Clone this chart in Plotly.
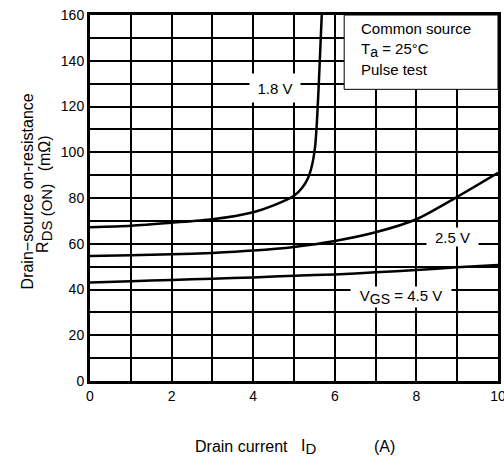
import plotly.graph_objects as go

# Drain current (A) and on-resistance (mOhm)
id_18 = [0, 1, 2, 3, 4, 4.5, 5, 5.2, 5.35, 5.45, 5.52, 5.57, 5.62, 5.68]
r_18 = [67.2, 67.9, 69.2, 70.7, 73.8, 76.8, 81, 84.5, 89, 95, 103, 116, 135, 160]

id_25 = [0, 1, 2, 3, 4, 5, 6, 7, 8, 9, 10]
r_25 = [54.6, 55.0, 55.4, 56.0, 57.0, 58.6, 61.2, 65.0, 70.7, 80.5, 91.0]

id_45 = [0, 1, 2, 3, 4, 5, 6, 7, 8, 9, 10]
r_45 = [43.1, 43.6, 44.2, 44.7, 45.3, 46.0, 46.6, 47.5, 48.5, 49.7, 50.7]

x_ticks = [0, 2, 4, 6, 8, 10]
y_ticks = [0, 20, 40, 60, 80, 100, 120, 140, 160]

FONT = "Liberation Sans, Arial, sans-serif"

fig = go.Figure()
for xs, ys in [(id_18, r_18), (id_25, r_25), (id_45, r_45)]:
    fig.add_trace(go.Scatter(x=xs, y=ys, mode="lines",
                             line=dict(color="black", width=2.5, shape="spline", smoothing=0.7),
                             showlegend=False, hoverinfo="skip"))

axis_common = dict(showline=True, linecolor="black", linewidth=3, mirror=True,
                   showgrid=True, gridcolor="black", gridwidth=1.5, automargin=False,
                   zeroline=False, ticks="", tickfont=dict(family=FONT, size=14, color="black"))

fig.update_xaxes(range=[0, 10], tickmode="array", tickvals=x_ticks,
                 ticktext=[str(v) for v in x_ticks], ticklabeloverflow="allow",
                 minor=dict(dtick=1, showgrid=True, gridcolor="black", gridwidth=1.5),
                 **axis_common)
fig.update_yaxes(range=[0, 160], tickmode="array", tickvals=y_ticks,
                 ticktext=[str(v) for v in y_ticks], ticklabeloverflow="allow",
                 minor=dict(dtick=10, showgrid=True, gridcolor="black", gridwidth=1.5),
                 **axis_common)

# Condition box
fig.add_shape(type="rect", xref="x", yref="y", x0=6.23, x1=10, y0=127.5, y1=160,
              fillcolor="white", line=dict(color="black", width=1), layer="above")

SUB = '<sub><span style="font-size:{}px">{}</span></sub>'

ann_font = dict(family=FONT, size=15, color="black")
annotations = [
    dict(x=6.6, y=154, text="Common source", xanchor="left"),
    dict(x=6.6, y=144.5, text="T" + SUB.format(14, "a") + " = 25°C", xanchor="left"),
    dict(x=6.6, y=136, text="Pulse test", xanchor="left"),
    dict(x=4.53, y=128, text="1.8 V", bgcolor="white", width=48, height=26),
    dict(x=8.88, y=63, text="2.5 V", bgcolor="white", width=49, height=16),
    dict(x=7.62, y=36.7, text="V" + SUB.format(14, "GS") + " = 4.5 V", bgcolor="white", width=98, height=18),
]
for a in annotations:
    fig.add_annotation(xref="x", yref="y", showarrow=False, font=ann_font, **a)

# Axis titles (pieces placed separately to keep the original spacing)
title_font = dict(family=FONT, size=16, color="black")
x_title = [
    dict(x=0.2525, text="Drain current"),
    dict(x=0.5125, text="I" + SUB.format(15, "D")),
    dict(x=0.690, text="(A)"),
]
for a in x_title:
    fig.add_annotation(xref="paper", yref="paper", y=-0.18, xanchor="left", yanchor="middle",
                       showarrow=False, font=title_font, **a)

y_title = [
    dict(x=-0.1544, y=0.518, text="Drain\u2212source on-resistance"),
    dict(x=-0.1127, y=0.622, text="(m\u03a9)"),
    dict(x=-0.1127, y=0.443, text="R" + SUB.format(15, "DS (ON)")),
]
for a in y_title:
    fig.add_annotation(xref="paper", yref="paper", xanchor="center", yanchor="middle",
                       textangle=-90, showarrow=False, font=title_font, **a)

fig.update_layout(width=504, height=459, margin=dict(l=90, r=6, t=15, b=78),
                  paper_bgcolor="white", plot_bgcolor="white",
                  font=dict(family=FONT, color="black"))

fig.write_html("out.html", config={"displayModeBar": False},
               post_script="document.body.style.margin='0';document.body.style.overflow='hidden';")
